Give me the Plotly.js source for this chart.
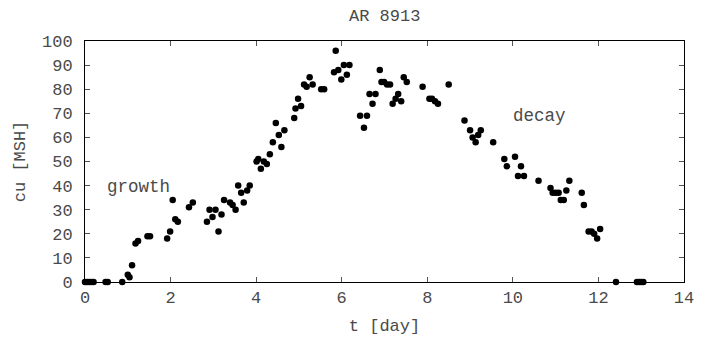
<!DOCTYPE html>
<html>
<head>
<meta charset="utf-8">
<script src="https://cdn.plot.ly/plotly-3.0.1.min.js"></script>
<style>html,body{margin:0;padding:0;background:#fff;}#chart{width:702px;height:337px;}</style>
</head>
<body>
<div id="chart"></div>
<script>
// Observation times (days) and umbral area (cu, MSH) for AR 8913
const tDays = [0.0, 0.05, 0.1, 0.15, 0.2, 0.48, 0.53, 0.87,
  1.0, 1.04, 1.1, 1.18, 1.24, 1.46, 1.52, 1.92, 1.99, 2.05, 2.11, 2.17, 2.43, 2.52,
  2.85, 2.91, 2.98, 3.05, 3.12, 3.19, 3.25, 3.39, 3.45, 3.52, 3.58, 3.65, 3.71, 3.79, 3.85,
  4.01, 4.05, 4.11, 4.18, 4.25, 4.32, 4.39, 4.46, 4.53, 4.59, 4.66, 4.89, 4.92, 4.98,
  5.05, 5.12, 5.18, 5.25, 5.32, 5.52, 5.59, 5.82, 5.86, 5.92, 5.99,
  6.05, 6.12, 6.18, 6.43, 6.52, 6.59, 6.65, 6.72, 6.79, 6.89, 6.93, 6.99,
  7.06, 7.13, 7.19, 7.26, 7.32, 7.39, 7.45, 7.52, 7.89,
  8.05, 8.11, 8.18, 8.25, 8.50, 8.87, 9.00, 9.06, 9.13, 9.19, 9.25, 9.54, 9.80, 9.86,
  10.05, 10.12, 10.19, 10.26, 10.60, 10.88, 10.93, 11.0, 11.07, 11.12, 11.19, 11.25, 11.32,
  11.61, 11.66, 11.77, 11.84, 11.90, 11.97, 12.04, 12.41, 12.9, 12.95, 13.0, 13.05];
const cuMSH = [0, 0, 0, 0, 0, 0, 0, 0,
  3, 2, 7, 16, 17, 19, 19, 18, 21, 34, 26, 25, 31, 33,
  25, 30, 27, 30, 21, 28, 34, 33, 32, 30, 40, 37, 33, 38, 40,
  50, 51, 47, 50, 49, 53, 58, 66, 61, 56, 63, 68, 72, 76,
  73, 82, 81, 85, 82, 80, 80, 87, 96, 88, 84,
  90, 86, 90, 69, 64, 69, 78, 74, 78, 88, 83, 83,
  82, 82, 74, 76, 78, 75, 85, 83, 81,
  76, 76, 75, 74, 82, 67, 63, 60, 58, 61, 63, 58, 51, 48,
  52, 44, 48, 44, 42, 39, 37, 37, 37, 34, 34, 38, 42,
  37, 32, 21, 21, 20, 18, 22, 0, 0, 0, 0, 0];
const xTicks = [0, 2, 4, 6, 8, 10, 12, 14];
const yTicks = [0, 10, 20, 30, 40, 50, 60, 70, 80, 90, 100];
const phaseLabels = ["growth", "decay"];
const phaseX = [1.25, 10.63];
const phaseY = [39.5, 69];

const FONT = "'Liberation Mono', 'Courier New', monospace";
const TXT = "#4a4a4a";
const FS = 17;

const trace = {
  x: tDays, y: cuMSH, type: "scatter", mode: "markers",
  marker: {color: "#000", size: 6.5},
  cliponaxis: false, hoverinfo: "x+y"
};

const axisCommon = {
  showline: true, linecolor: "#000", linewidth: 1, mirror: "ticks",
  ticks: "inside", ticklen: 5, tickcolor: "#555", tickwidth: 1,
  showgrid: false, zeroline: false,
  tickfont: {family: FONT, size: FS, color: TXT}
};

const layout = {
  width: 702, height: 337,
  margin: {l: 85, r: 18, t: 41, b: 55},
  paper_bgcolor: "#fff", plot_bgcolor: "#fff",
  showlegend: false,
  title: {text: "AR 8913", font: {family: FONT, size: FS, color: TXT}, x: 0.548, xanchor: "center", y: 0.955, yanchor: "middle"},
  xaxis: Object.assign({}, axisCommon, {
    range: [0, 14], tickvals: xTicks, ticktext: xTicks.map(String),
    title: {text: "t [day]", font: {family: FONT, size: FS, color: TXT}, standoff: 11}
  }),
  yaxis: Object.assign({}, axisCommon, {
    range: [0, 100], tickvals: yTicks, ticktext: yTicks.map(String),
    ticklabelstandoff: 8,
    title: {text: "cu [MSH]", font: {family: FONT, size: FS, color: TXT}, standoff: 12}
  }),
  annotations: phaseLabels.map((t, i) => ({
    x: phaseX[i], y: phaseY[i], xref: "x", yref: "y", text: t, showarrow: false,
    font: {family: FONT, size: 17.5, color: TXT}, xanchor: "center", yanchor: "middle"
  }))
};

Plotly.newPlot("chart", [trace], layout, {displayModeBar: false, staticPlot: true});
</script>
</body>
</html>
